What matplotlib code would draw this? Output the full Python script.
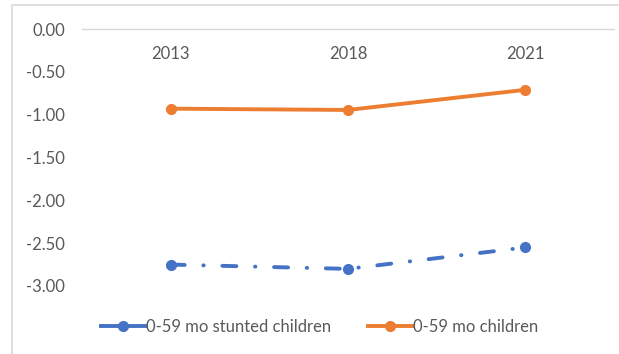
import matplotlib.pyplot as plt
from matplotlib.lines import Line2D
from matplotlib.patches import Rectangle

years = ['2013', '2018', '2021']
stunted = [-2.75, -2.80, -2.55]
children = [-0.93, -0.945, -0.71]
yticks = [0, -0.5, -1.0, -1.5, -2.0, -2.5, -3.0]

plt.rcParams['font.family'] = ['Lato', 'DejaVu Sans']
gray = '#595959'
blue = '#4472C4'
orange = '#ED7D31'

fig = plt.figure(figsize=(6.19, 3.54), dpi=100)
ax = fig.add_axes([82 / 619, 1 - 286 / 354, (614 - 82) / 619, (286 - 29) / 354])

x = range(len(years))
ax.plot(x, stunted, color=blue, lw=2.8, marker='o', ms=7,
        dashes=(3.6, 4.8, 0.1, 4.8), dash_capstyle='round')
ax.plot(x, children, color=orange, lw=2.8, marker='o', ms=7)

ax.set_xlim(-0.5, 2.5)
ax.set_ylim(-3.0, 0)
ax.set_yticks(yticks)
ax.set_yticklabels([f'{v:.2f}' for v in yticks])
ax.set_xticks(list(x))
ax.set_xticklabels(years)
ax.xaxis.set_ticks_position('top')
ax.tick_params(axis='x', top=False, labeltop=True, pad=-27, labelsize=12, colors=gray)
ax.tick_params(axis='y', length=0, pad=12, labelsize=12, colors=gray)
for s in ['left', 'right', 'bottom']:
    ax.spines[s].set_visible(False)
ax.spines['top'].set_color('#D9D9D9')
ax.spines['top'].set_linewidth(1)

handles = [Line2D([], [], color=blue, lw=2.8, marker='o', ms=7),
           Line2D([], [], color=orange, lw=2.8, marker='o', ms=7)]
fig.legend(handles, ['0-59 mo stunted children', '0-59 mo children'],
           loc='center', bbox_to_anchor=(320 / 619, 1 - 327 / 354), ncol=2,
           frameon=False, fontsize=12, handlelength=2.6, handletextpad=0.1,
           columnspacing=2.2, labelcolor=gray)

fig.patches.append(Rectangle((12 / 619, -0.05), 0.99, 1 - 5 / 354 + 0.05,
                             transform=fig.transFigure, fill=False,
                             edgecolor='#D9D9D9', lw=1.2))

fig.savefig('out.png', dpi=100)
